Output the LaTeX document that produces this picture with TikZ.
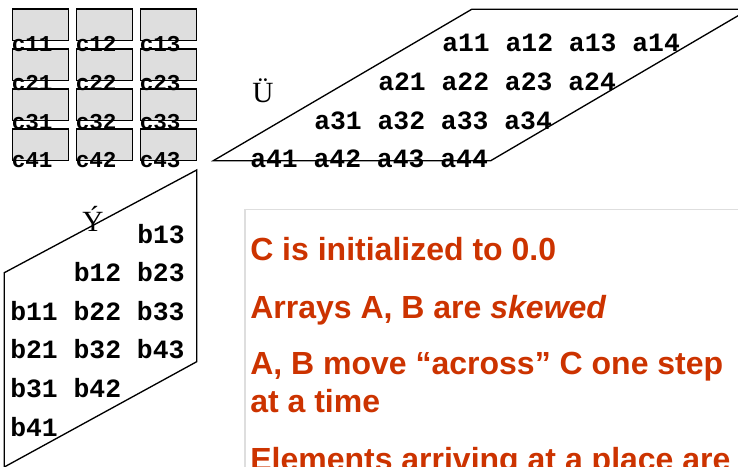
\documentclass[tikz,border=0pt]{standalone}
\usepackage{fontspec}
\setmainfont{Liberation Serif}
\setsansfont{Liberation Sans}
\setmonofont{Liberation Mono}
\definecolor{slidered}{HTML}{CC3300}

\begin{document}
\begin{tikzpicture}[x=0.75pt, y=-0.75pt,
 cell/.style={rectangle, draw, line width=1pt, fill=black!13, minimum width=42pt, minimum height=23.8pt, inner sep=0pt},
 clbl/.style={font=\ttfamily\bfseries\fontsize{17}{18}\selectfont, anchor=base west, inner sep=0pt},
 mtx/.style={font=\ttfamily\bfseries\fontsize{19.8}{21}\selectfont, anchor=base west, inner sep=0pt},
 sym/.style={font=\fontsize{22}{24}\selectfont, anchor=base west, inner sep=0pt},
 note/.style={font=\sffamily\bfseries\fontsize{24}{28.8}\selectfont, text=slidered, anchor=base west, inner sep=0pt},
 skew/.style={draw, line width=1pt, line join=miter},
]
\useasboundingbox (0,0) rectangle (738,467);
\clip (0,0) rectangle (738,467);

% C sits still, one cell per place
\foreach \i in {1,...,4}
 \foreach \j in {1,2,3}
  \node[cell] (c\i\j) at ({40.7+64*(\j-1)},{24.8+40*(\i-1)}) {};
\foreach \i in {1,...,4}
 \foreach \j in {1,2,3}
  \node[clbl] (lc\i\j) at ({11.5+64*(\j-1)},{52+38.5*(\i-1)}) {c\i\j};

% A comes in from the right
\draw[skew] (213.3,160.7) -- (471.7,9.3) -- (749,9.3) -- (490.7,160.7) -- cycle;
\node[mtx] (arow1) at (442,52) {a11 a12 a13 a14};
\node[mtx] (arow2) at (378,90.5) {a21 a22 a23 a24};
\node[mtx] (arow3) at (314,129) {a31 a32 a33 a34};
\node[mtx] (arow4) at (250,167.5) {a41 a42 a43 a44};
\node[sym] (amark) at (252,102) {Ü};

% B comes in from below
\draw[skew] (4.3,272.7) -- (196.7,170) -- (196.7,361.7) -- (4.3,467) -- cycle;
\node[mtx] (brow1) at (137,243.3) {b13};
\node[mtx] (brow2) at (73.5,281.7) {b12 b23};
\node[mtx] (brow3) at (10,320) {b11 b22 b33};
\node[mtx] (brow4) at (10,358.5) {b21 b32 b43};
\node[mtx] (brow5) at (10,397.2) {b31 b42};
\node[mtx] (brow6) at (10,436) {b41};
\node[sym] (bmark) at (82,231) {Ý};

% notes
\draw[black!13, line width=1.1pt] (245,209.3) rectangle (780,500);
\node[note] (n1) at (250,260) {C is initialized to 0.0};
\node[note] (n2) at (250,318) {Arrays A, B are \textit{skewed}};
\node[note] (n3) at (250,374) {A, B move “across” C one step};
\node[note] (n3b) at (250,412) {at a time};
\node[note] (n4) at (250,470) {Elements arriving at a place are};
\end{tikzpicture}
\end{document}
